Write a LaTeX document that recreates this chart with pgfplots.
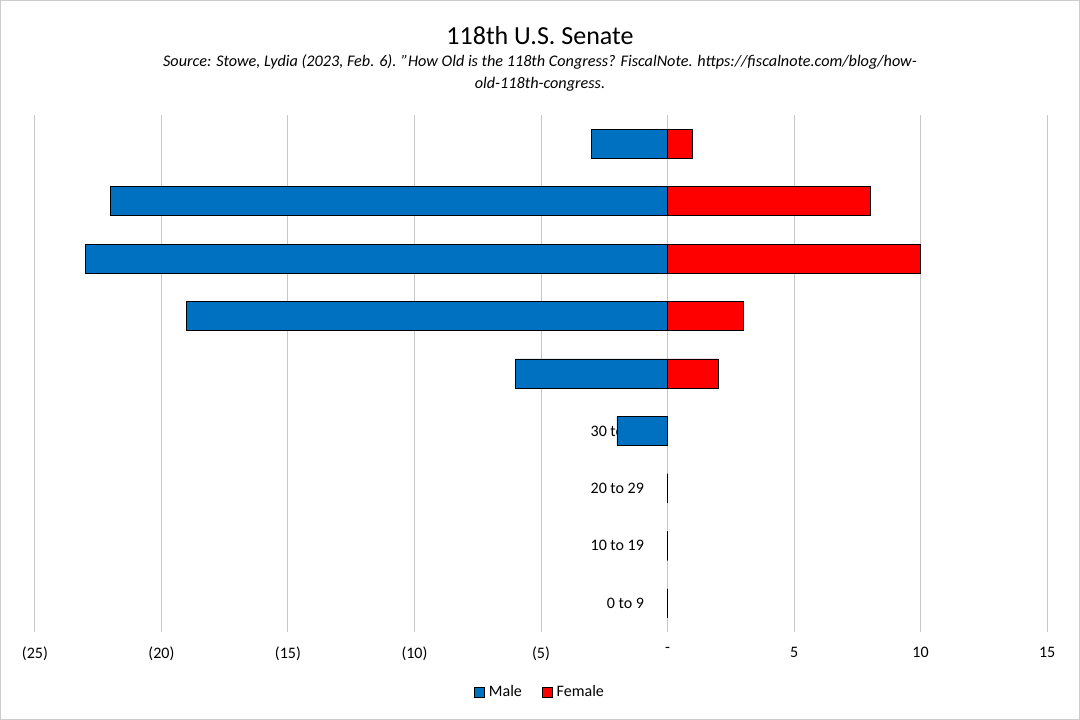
\documentclass[border=0pt]{standalone}
\usepackage{pgfplots}
\pgfplotsset{compat=1.18}
\usepackage{fontspec}
\setmainfont{Carlito}
\definecolor{mblue}{HTML}{0070C0}
\definecolor{fred}{HTML}{FF0000}
\begin{document}
\begin{tikzpicture}
\path[draw=gray!40] (0.25pt,0.25pt) rectangle (539.75pt,359.75pt);
\node[font=\fontsize{13}{15}\selectfont] at (270pt,342pt) {118th U.S. Senate};
\node[font=\fontsize{8.1}{11}\selectfont\itshape, align=center] at (270pt,323.5pt) {Source: Stowe, Lydia (2023, Feb. 6). "How Old is the 118th Congress? FiscalNote. https://fiscalnote.com/blog/how-\\old-118th-congress.};
\begin{axis}[
  at={(17.5pt,44pt)}, anchor=south west,
  scale only axis, width=506pt, height=258.5pt,
  xbar, bar width=14.5pt, bar shift=0pt,
  xmin=-25, xmax=15, ymin=-0.5, ymax=8.5,
  xtick={-25,-20,-15,-10,-5,0,5,10,15},
  xticklabels={(25),(20),(15),(10),(5),-,5,10,15},
  ytick={0,...,8},
  yticklabels={0 to 9,10 to 19,20 to 29,30 to 39,40 to 49,50 to 59,60 to 69,70 to 79,80+},
  yticklabel style={anchor=east, xshift=308pt, font=\fontsize{8}{10}\selectfont},
  xticklabel style={font=\fontsize{8}{10}\selectfont, yshift=-4pt},
  /pgf/number format/assume math mode=true,
  major tick length=0pt,
  axis line style={draw=none},
  xmajorgrids, grid style={gray!45, line width=0.5pt},
  legend style={at={(0.5,-0.116)}, anchor=center, draw=none, legend columns=2, font=\fontsize{8}{10}\selectfont, /tikz/every even column/.append style={column sep=8pt}},
  legend image code/.code={\draw[#1] (0pt,-2.5pt) rectangle (5pt,2.5pt);},
]
\addplot[fill=mblue, draw=black, line width=0.4pt] coordinates {(0,0) (0,1) (0,2) (-2,3) (-6,4) (-19,5) (-23,6) (-22,7) (-3,8)};
\addplot[fill=fred, draw=black, line width=0.4pt] coordinates {(0,0) (0,1) (0,2) (0,3) (2,4) (3,5) (10,6) (8,7) (1,8)};
\legend{Male,Female}
\end{axis}
\end{tikzpicture}
\end{document}
